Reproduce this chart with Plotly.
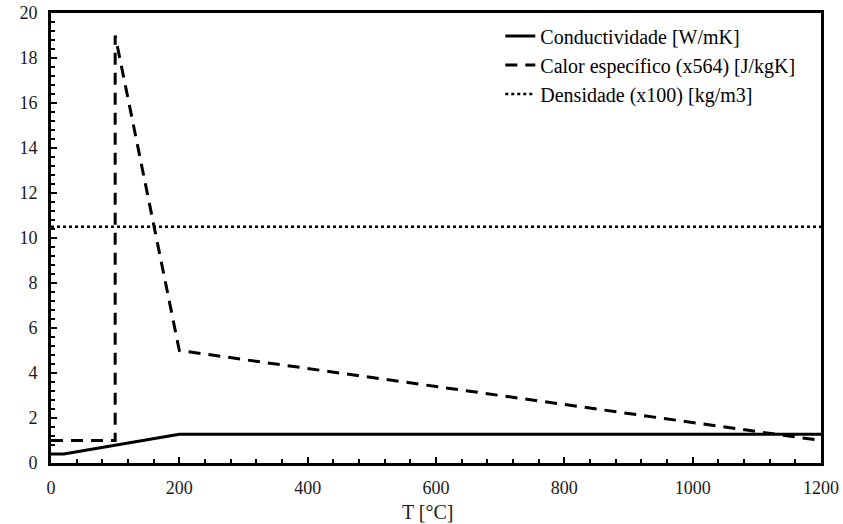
import plotly.graph_objects as go

# data
cond_t = [0, 20, 200, 1200]
cond_v = [0.4, 0.4, 1.28, 1.28]

calor_t = [0, 100, 100, 200, 1200]
calor_v = [1.0, 1.0, 19.0, 5.0, 1.0]

dens_t = [0, 1200]
dens_v = [10.5, 10.5]

FONT = "Liberation Serif, Times New Roman, serif"

fig = go.Figure()
fig.add_trace(go.Scatter(x=cond_t, y=cond_v, mode="lines", name="Conductividade [W/mK]",
                         line=dict(color="black", width=3)))
fig.add_trace(go.Scatter(x=calor_t, y=calor_v, mode="lines", name="Calor específico (x564) [J/kgK]",
                         line=dict(color="black", width=3, dash="12px,8px")))
fig.add_trace(go.Scatter(x=dens_t, y=dens_v, mode="lines", name="Densidade (x100) [kg/m3]",
                         line=dict(color="black", width=2.5, dash="dot")))

axis_common = dict(
    showgrid=False, zeroline=False, automargin=False,
    showline=True, linecolor="black", linewidth=3, mirror=True,
    ticks="inside", ticklen=6, tickwidth=1.5, tickcolor="black",
    ticklabeloverflow="allow",
    tickfont=dict(family=FONT, size=18, color="#1a1a1a"),
)

fig.update_xaxes(range=[0, 1200], dtick=200, ticklabelstandoff=6,
                 minor=dict(ticks="inside", dtick=40, ticklen=4, tickcolor="black"), **axis_common)
fig.update_yaxes(range=[0, 20], dtick=2, ticklabelstandoff=7,
                 minor=dict(ticks="inside", dtick=0.4, ticklen=4, tickcolor="black"), **axis_common)

# x title sits a little left of centre in the reference
fig.add_annotation(text="T [°C]", xref="paper", yref="paper", x=0.49, y=-0.108,
                   xanchor="center", yanchor="middle", showarrow=False,
                   font=dict(family=FONT, size=20, color="#1a1a1a"))

fig.update_layout(
    width=843, height=524,
    margin=dict(l=51, r=22, t=13, b=61),
    paper_bgcolor="white", plot_bgcolor="white",
    font=dict(family=FONT, size=18, color="black"),
    legend=dict(x=0.5835, y=0.992, xanchor="left", yanchor="top",
                bgcolor="rgba(255,255,255,0)", borderwidth=0,
                font=dict(family=FONT, size=20, color="black"), itemwidth=30),
    showlegend=True,
)

# drop the default 8px body margin so the figure fills the window
fig.write_html("out.html", config={"displayModeBar": False},
               post_script="document.body.style.margin='0';")
